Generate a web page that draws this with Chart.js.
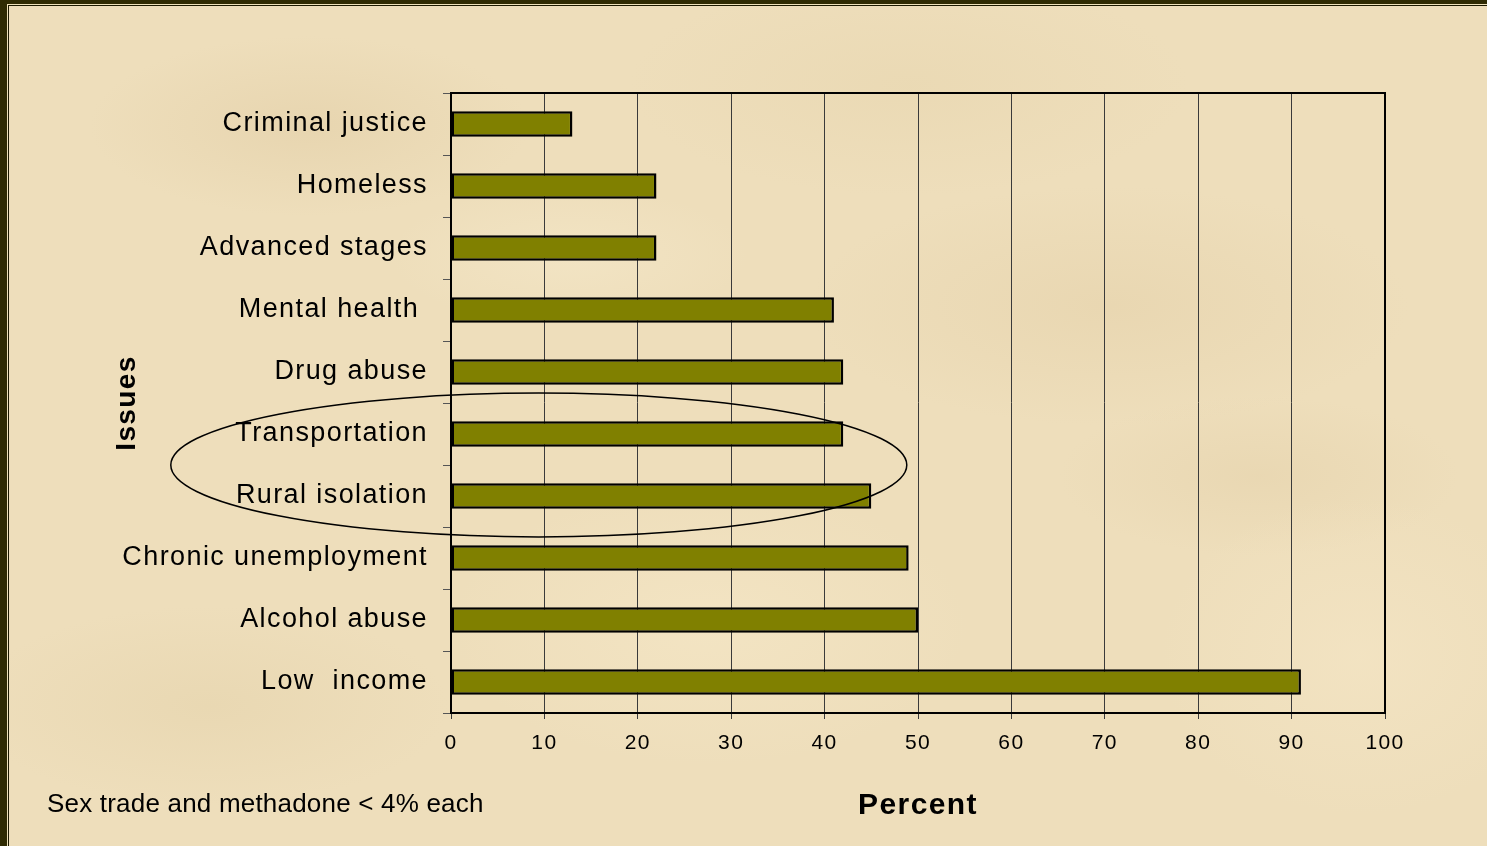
<!DOCTYPE html>
<html>
<head>
<meta charset="utf-8">
<title>Issues</title>
<script src="https://cdn.jsdelivr.net/npm/chart.js@4"></script>
<style>
  html, body {
    margin: 0;
    padding: 0;
    width: 1487px;
    height: 846px;
    overflow: hidden;
    background: #2f2b03;
  }
  #edge {
    position: absolute;
    left: 7px;
    top: 4px;
    right: 0;
    bottom: 0;
    border-left: 1px solid #efe2bb;
    border-top: 1px solid #efe2bb;
  }
  #paper {
    position: absolute;
    left: 0;
    top: 0;
    right: 0;
    bottom: 0;
    border-left: 1px solid #1c1a00;
    border-top: 1px solid #1c1a00;
    background-color: #eedebb;
    background-image:
      radial-gradient(ellipse 220px 90px at 300px 120px, rgba(226, 206, 166, 0.55), transparent),
      radial-gradient(ellipse 300px 120px at 1100px 300px, rgba(228, 208, 168, 0.5), transparent),
      radial-gradient(ellipse 260px 140px at 700px 620px, rgba(246, 232, 200, 0.6), transparent),
      radial-gradient(ellipse 240px 100px at 200px 700px, rgba(228, 210, 170, 0.5), transparent),
      radial-gradient(ellipse 200px 160px at 1350px 650px, rgba(245, 230, 198, 0.6), transparent),
      radial-gradient(ellipse 280px 110px at 900px 80px, rgba(230, 212, 172, 0.45), transparent),
      radial-gradient(ellipse 180px 70px at 560px 250px, rgba(246, 234, 204, 0.5), transparent),
      radial-gradient(ellipse 200px 80px at 1250px 470px, rgba(226, 206, 166, 0.4), transparent);
  }
  #wrap {
    position: absolute;
    left: 0;
    top: 0;
    width: 1487px;
    height: 846px;
  }
</style>
</head>
<body>
<div id="edge"><div id="paper"></div></div>
<div id="wrap"><canvas id="issuesChart"></canvas></div>
<script>
// Survey issues, top to bottom as on the slide
const issues = [
  "Criminal justice",
  "Homeless",
  "Advanced stages",
  "Mental health ",
  "Drug abuse",
  "Transportation",
  "Rural isolation",
  "Chronic unemployment",
  "Alcohol abuse",
  "Low  income",
];
const percents = [13, 22, 22, 41, 42, 42, 45, 49, 50, 91];
const percentTicks = [0, 10, 20, 30, 40, 50, 60, 70, 80, 90, 100];
const footnote = "Sex trade and methadone < 4% each";

const textFont = "'Liberation Sans', Arial, sans-serif";

// Canvas resets drop letterSpacing, so set it again before layout and draw
const spacing = {
  id: "spacing",
  beforeLayout(chart) {
    chart.ctx.letterSpacing = "1.4px";
  },
  beforeDraw(chart) {
    chart.ctx.letterSpacing = "1.4px";
  },
};

// Box round the plot, the ring round Transportation / Rural isolation, the footnote
const extras = {
  id: "extras",
  afterDatasetsDraw(chart) {
    const { ctx, chartArea } = chart;
    ctx.save();
    ctx.strokeStyle = "#000";
    ctx.lineWidth = 2;
    ctx.beginPath();
    ctx.moveTo(chartArea.left, chartArea.top);
    ctx.lineTo(chartArea.right, chartArea.top);
    ctx.lineTo(chartArea.right, chartArea.bottom);
    ctx.stroke();
    ctx.restore();
  },
  afterDraw(chart) {
    const { ctx } = chart;
    const x = chart.scales.x;
    const y = chart.scales.y;

    const left = x.getPixelForValue(-30);
    const right = x.getPixelForValue(48.8);
    const top = y.getPixelForValue(4.34);
    const bottom = y.getPixelForValue(6.66);
    ctx.save();
    ctx.strokeStyle = "#000";
    ctx.lineWidth = 1.5;
    ctx.beginPath();
    ctx.ellipse((left + right) / 2, (top + bottom) / 2, (right - left) / 2, (bottom - top) / 2, 0, 0, Math.PI * 2);
    ctx.stroke();

    ctx.letterSpacing = "0.2px";
    ctx.fillStyle = "#000";
    ctx.font = "26px " + textFont;
    ctx.textAlign = "left";
    ctx.textBaseline = "alphabetic";
    ctx.fillText(footnote, 47, 812);
    ctx.restore();
  },
};

const ctx = document.getElementById("issuesChart").getContext("2d");
const issuesChart = new Chart(ctx, {
  type: "bar",
  data: {
    labels: issues,
    datasets: [
      {
        data: percents,
        backgroundColor: "#808000",
        borderColor: "#000000",
        borderWidth: 2.5,
        borderSkipped: false,
        inflateAmount: 0,
        barPercentage: 0.41,
        categoryPercentage: 1,
      },
    ],
  },
  options: {
    indexAxis: "y",
    responsive: true,
    maintainAspectRatio: false,
    animation: false,
    layout: {
      padding: { left: 110, top: 93, right: 102, bottom: 22 },
    },
    scales: {
      x: {
        min: 0,
        max: 100,
        afterBuildTicks: function (scale) {
          scale.ticks = percentTicks.map((v) => ({ value: v }));
        },
        afterFit: function (scale) {
          scale.height = 846 - 22 - 713;
        },
        ticks: {
          color: "#000",
          padding: 12,
          font: { family: textFont, size: 21 },
        },
        grid: {
          color: "#3a3a3a",
          lineWidth: 1,
          tickLength: 6,
        },
        border: {
          display: true,
          color: "#000",
          width: 2,
        },
        title: {
          display: true,
          text: "Percent",
          color: "#000",
          padding: 0,
          font: { family: textFont, size: 30, weight: "bold" },
        },
      },
      y: {
        afterFit: function (scale) {
          scale.width = 451 - 110;
        },
        ticks: {
          color: "#000",
          padding: 15,
          font: { family: textFont, size: 27 },
        },
        grid: {
          drawOnChartArea: false,
          color: "#555",
          tickLength: 8,
        },
        border: {
          display: true,
          color: "#000",
          width: 2,
        },
        title: {
          display: true,
          text: "Issues",
          color: "#000",
          padding: 0,
          font: { family: textFont, size: 28, weight: "bold" },
        },
      },
    },
    plugins: {
      legend: { display: false },
      tooltip: { enabled: false },
    },
  },
  plugins: [spacing, extras],
});
</script>
</body>
</html>
